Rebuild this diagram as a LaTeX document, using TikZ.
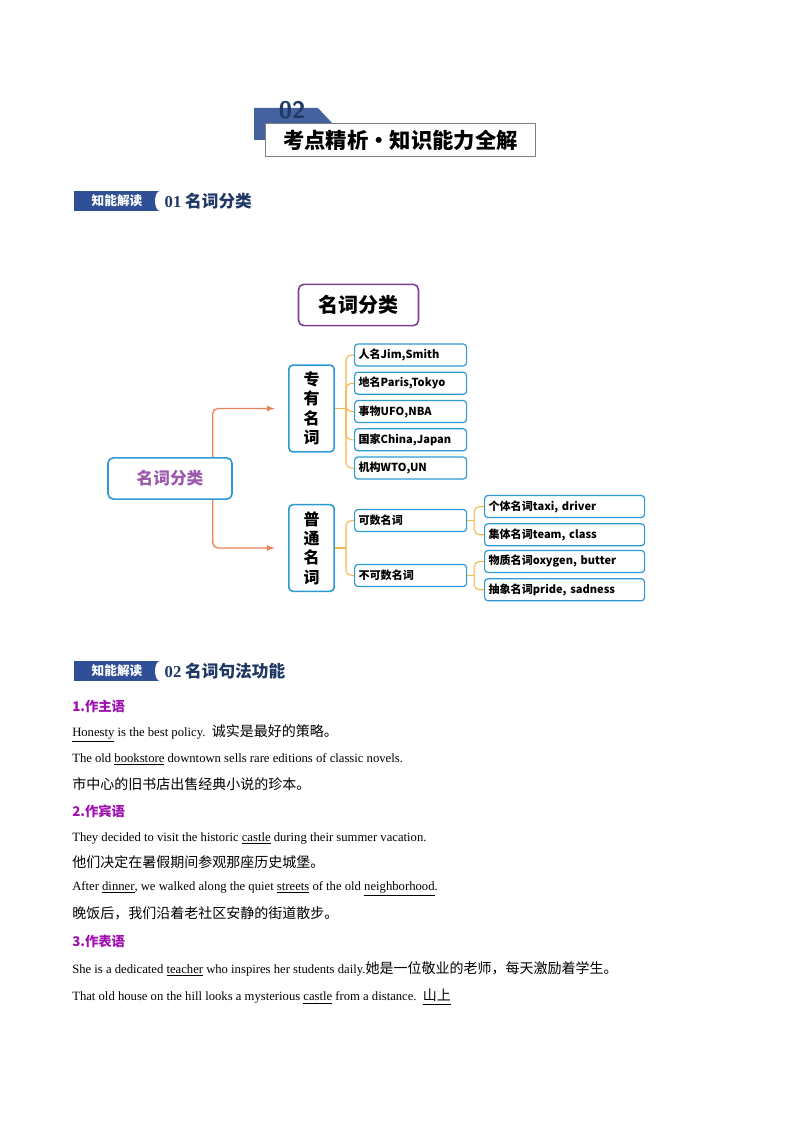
\documentclass[tikz,border=0pt]{standalone}
\usepackage{fontspec}
\setmainfont{Liberation Serif}
\newfontfamily\cjk{Noto Sans CJK SC}
\usetikzlibrary{positioning}
\definecolor{navycol}{HTML}{1F3864}
\definecolor{tagcol}{HTML}{2F4F96}
\definecolor{boxcol}{HTML}{2E9AD3}
\definecolor{purpcol}{HTML}{7E3F8E}
\definecolor{roottxt}{HTML}{9B5AAE}
\definecolor{arrcol}{HTML}{E8825A}
\definecolor{bracecol}{HTML}{F2B84B}
\definecolor{headcol}{HTML}{A010B0}
\newcommand{\zh}[1]{{\cjk\fontsize{10.5pt}{12pt}\selectfont #1}}
\tikzset{
  leaf/.style={draw=boxcol, line width=0.9pt, rounded corners=2.5pt, minimum width=84pt, minimum height=16.5pt, inner xsep=3pt, anchor=west, text width=78pt, align=left, font=\cjk\bfseries\fontsize{8.3pt}{9pt}\selectfont},
  wleaf/.style={leaf, minimum width=120pt, text width=114pt},
  vbox/.style={draw=boxcol, line width=1.2pt, rounded corners=3pt, minimum width=34pt, minimum height=65pt, align=center, font=\cjk\bfseries\fontsize{12pt}{14.5pt}\selectfont},
  arrow/.style={draw=arrcol, line width=1pt, rounded corners=4pt, ->, >=latex, shorten >=10pt},
  brace/.style={draw=bracecol, line width=0.8pt, rounded corners=4pt},
  line/.style={anchor=west, inner sep=0pt, font=\fontsize{9.5pt}{11pt}\selectfont},
  head/.style={line, text=headcol, font=\cjk\bfseries\fontsize{10pt}{11pt}\selectfont},
  tag/.style={fill=tagcol, minimum width=64pt, minimum height=15pt, inner sep=0pt, text=white, font=\cjk\bfseries\itshape\fontsize{9.5pt}{10pt}\selectfont},
  sect/.style={anchor=west, text=navycol, font=\cjk\bfseries\fontsize{12.5pt}{14pt}\selectfont}
}
\begin{document}
\begin{tikzpicture}[x=0.75pt, y=-0.75pt]
\useasboundingbox[fill=white] (0,0) rectangle (794,1123);

%Banner
\fill[tagcol!90] (254,108) -- (318,108) -- (333,124) -- (333,140) -- (254,140) -- cycle;
\node (num) [text=navycol, font=\sffamily\bfseries\fontsize{18pt}{18pt}\selectfont] at (292,110) {02};
\node (title) [draw=gray, fill=white, line width=0.8pt, minimum width=203pt, minimum height=25pt, font=\cjk\bfseries\fontsize{16pt}{18pt}\selectfont] at (400.5,140) {考点精析·知识能力全解};

%Section 1
\node (tag1) [tag] at (117,201) {知能解读};
\fill[white] (160,201) ellipse (5 and 10);
\node (s1) [sect] at (160,201) {\textbf{\fontspec{Liberation Serif}01}\ 名词分类};

%Diagram
\node (top) [draw=purpcol, line width=1.2pt, rounded corners=4pt, minimum width=90pt, minimum height=31pt, font=\cjk\bfseries\fontsize{15pt}{16pt}\selectfont] at (358.5,305) {名词分类};
\node (root) [draw=boxcol, line width=1.2pt, rounded corners=4pt, minimum width=93pt, minimum height=31pt, text=roottxt, font=\cjk\bfseries\fontsize{12.5pt}{14pt}\selectfont] at (170,478.5) {名词分类};
\node (zy) [vbox] at (311.5,408.5) {专\\有\\名\\词};
\node (pt) [vbox] at (311.5,548) {普\\通\\名\\词};

\node (rm) [leaf] at (354,355) {人名Jim,Smith};
\node (dm) [leaf, below=3.8pt of rm.south west, anchor=north west] {地名Paris,Tokyo};
\node (sw) [leaf, below=3.8pt of dm.south west, anchor=north west] {事物UFO,NBA};
\node (gj) [leaf, below=3.8pt of sw.south west, anchor=north west] {国家China,Japan};
\node (jg) [leaf, below=3.8pt of gj.south west, anchor=north west] {机构WTO,UN};

\node (ks) [leaf] at (354,520.5) {可数名词};
\node (bks) [leaf] at (354,575.5) {不可数名词};
\node (gt) [wleaf] at (484,506.5) {个体名词taxi, driver};
\node (jt) [wleaf, below=3.8pt of gt.south west, anchor=north west] {集体名词team, class};
\node (wz) [wleaf] at (484,561.5) {物质名词oxygen, butter};
\node (cx) [wleaf, below=3.8pt of wz.south west, anchor=north west] {抽象名词pride, sadness};

\draw [arrow] ([xshift=32]root.north) |- (zy.west);
\draw [arrow] ([xshift=32]root.south) |- (pt.west);

\draw [brace] (zy.east) -- ++(11,0) coordinate (b1);
\foreach \n in {rm,dm,sw,gj,jg} \draw [brace] (b1) |- (\n.west);
\draw [brace] (pt.east) -- ++(11,0) coordinate (b2);
\foreach \n in {ks,bks} \draw [brace] (b2) |- (\n.west);
\draw [brace] (ks.east) -- ++(7,0) coordinate (b3);
\foreach \n in {gt,jt} \draw [brace] (b3) |- (\n.west);
\draw [brace] (bks.east) -- ++(7,0) coordinate (b4);
\foreach \n in {wz,cx} \draw [brace] (b4) |- (\n.west);

%Section 2
\node (tag2) [tag] at (117,671) {知能解读};
\fill[white] (160,671) ellipse (5 and 10);
\node (s2) [sect] at (160,671) {\textbf{\fontspec{Liberation Serif}02}\ 名词句法功能};

\node (h1) [head] at (72,706) {1.作主语};
\node (l1) [line] at (72,733) {\underline{Honesty} is the best policy.\ \ \zh{诚实是最好的策略。}};
\node (l2) [line] at (72,759) {The old \underline{bookstore} downtown sells rare editions of classic novels.};
\node (l3) [line] at (72,784) {\zh{市中心的旧书店出售经典小说的珍本。}};
\node (h2) [head] at (72,811) {2.作宾语};
\node (l4) [line] at (72,838) {They decided to visit the historic \underline{castle} during their summer vacation.};
\node (l5) [line] at (72,862) {\zh{他们决定在暑假期间参观那座历史城堡。}};
\node (l6) [line] at (72,889) {After \underline{dinner}, we walked along the quiet \underline{streets} of the old \underline{neighborhood}.};
\node (l7) [line] at (72,913) {\zh{晚饭后，我们沿着老社区安静的街道散步。}};
\node (h3) [head] at (72,941) {3.作表语};
\node (l8) [line] at (72,969) {She is a dedicated \underline{teacher} who inspires her students daily.\zh{她是一位敬业的老师，每天激励着学生。}};
\node (l9) [line] at (72,997) {That old house on the hill looks a mysterious \underline{castle} from a distance.\ \ \zh{\underline{山上}}};
\end{tikzpicture}
\end{document}
